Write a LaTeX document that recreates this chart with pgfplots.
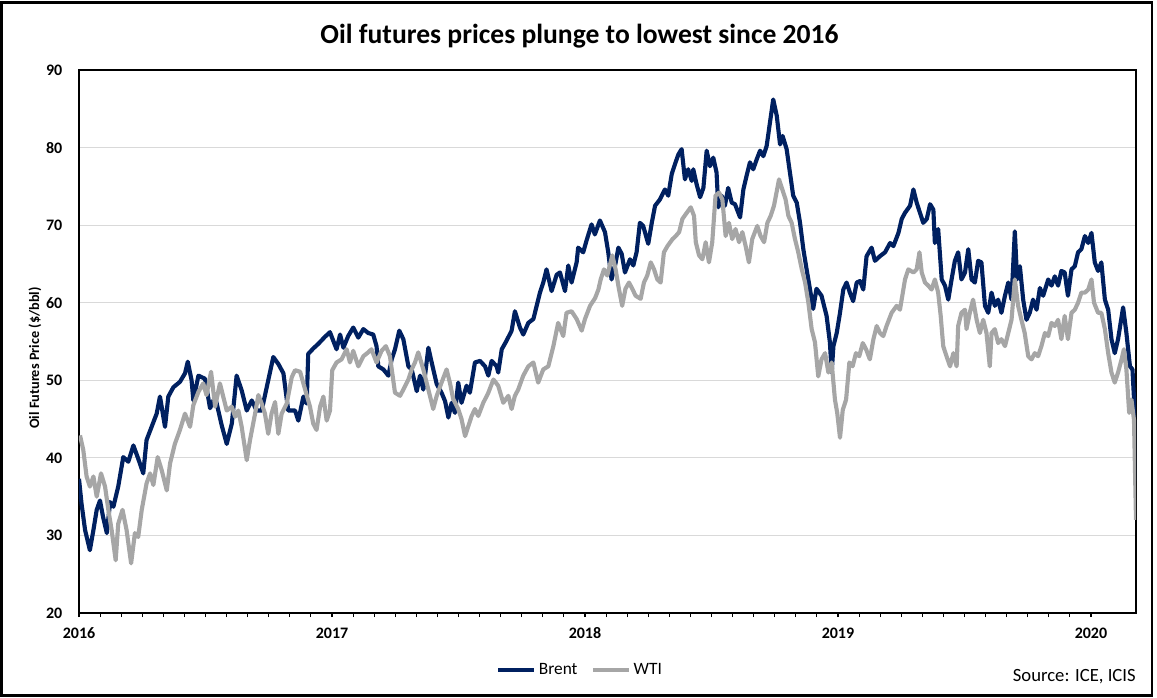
\documentclass[border=0pt]{standalone}
\usepackage{pgfplots}
\pgfplotsset{compat=1.18}
\usepackage{fontspec}
\setmainfont{Carlito}
\definecolor{brent}{HTML}{002060}
\definecolor{wti}{HTML}{A6A6A6}
\definecolor{gridc}{HTML}{D9D9D9}

\pgfplotstableread{
x y
2016.000 37.3
2016.010 34.1
2016.024 30.7
2016.043 28.1
2016.057 30.7
2016.070 33.3
2016.083 34.5
2016.095 32.4
2016.110 30.3
2016.123 34.3
2016.136 33.7
2016.155 36.3
2016.175 40.1
2016.195 39.5
2016.215 41.6
2016.234 39.9
2016.254 38.0
2016.267 42.3
2016.287 44.0
2016.307 45.7
2016.320 47.9
2016.340 44.0
2016.353 47.9
2016.373 49.1
2016.399 49.8
2016.419 50.9
2016.430 52.4
2016.445 50.0
2016.452 47.4
2016.472 50.6
2016.498 50.2
2016.518 46.4
2016.538 47.9
2016.564 44.2
2016.584 41.8
2016.604 44.4
2016.623 50.6
2016.643 48.7
2016.663 46.1
2016.683 47.4
2016.702 46.1
2016.722 46.1
2016.742 49.1
2016.768 53.0
2016.788 52.1
2016.808 50.9
2016.827 46.1
2016.854 46.1
2016.867 44.8
2016.887 47.9
2016.900 47.0
2016.906 53.4
2016.926 54.1
2016.946 54.7
2016.972 55.6
2016.992 56.2
2017.018 54.0
2017.032 55.9
2017.045 54.2
2017.064 55.7
2017.084 56.8
2017.104 55.5
2017.124 56.6
2017.143 56.1
2017.163 55.9
2017.176 54.4
2017.183 51.8
2017.203 51.4
2017.223 50.6
2017.236 52.7
2017.249 54.0
2017.266 56.4
2017.282 55.3
2017.302 51.8
2017.315 51.4
2017.335 48.6
2017.348 50.6
2017.361 48.8
2017.381 54.2
2017.394 52.3
2017.414 49.5
2017.433 48.4
2017.447 47.3
2017.460 45.2
2017.473 47.1
2017.486 45.8
2017.499 49.7
2017.512 47.1
2017.532 49.3
2017.545 48.4
2017.565 52.3
2017.585 52.5
2017.605 51.8
2017.618 50.6
2017.631 52.5
2017.651 51.8
2017.657 51.0
2017.671 54.0
2017.690 55.1
2017.710 56.4
2017.723 58.9
2017.743 56.8
2017.756 55.9
2017.776 57.4
2017.796 57.9
2017.809 59.6
2017.822 61.3
2017.835 62.6
2017.848 64.3
2017.868 61.5
2017.888 63.6
2017.901 63.9
2017.921 61.5
2017.934 64.8
2017.947 62.6
2017.967 65.2
2017.973 67.1
2017.993 66.5
2018.006 68.0
2018.026 70.1
2018.039 68.8
2018.059 70.6
2018.079 69.1
2018.092 66.5
2018.105 63.0
2018.119 64.8
2018.132 67.1
2018.145 66.3
2018.158 63.9
2018.178 65.6
2018.191 64.8
2018.204 66.5
2018.217 70.3
2018.230 69.9
2018.250 67.6
2018.264 70.3
2018.277 72.5
2018.296 73.3
2018.316 74.6
2018.329 73.8
2018.343 76.6
2018.356 77.9
2018.369 79.1
2018.382 79.8
2018.395 75.9
2018.408 77.2
2018.422 75.7
2018.428 77.2
2018.441 75.3
2018.455 73.6
2018.468 74.8
2018.481 79.6
2018.494 77.6
2018.507 78.7
2018.520 76.8
2018.527 72.3
2018.540 73.8
2018.553 72.5
2018.566 74.8
2018.580 72.9
2018.593 72.7
2018.613 71.0
2018.626 74.6
2018.639 76.4
2018.652 78.1
2018.665 77.2
2018.679 78.5
2018.692 79.6
2018.705 78.9
2018.718 80.2
2018.731 83.2
2018.744 86.2
2018.758 84.1
2018.771 80.4
2018.781 81.5
2018.797 79.8
2018.810 76.8
2018.823 73.8
2018.837 72.9
2018.850 70.3
2018.863 66.9
2018.876 64.3
2018.889 61.8
2018.902 59.2
2018.915 61.8
2018.935 60.9
2018.955 58.3
2018.968 54.9
2018.975 51.0
2018.982 54.4
2018.995 56.1
2019.008 58.7
2019.021 61.7
2019.034 62.6
2019.047 61.3
2019.060 60.2
2019.074 62.6
2019.087 62.8
2019.100 61.7
2019.113 66.0
2019.133 67.1
2019.146 65.4
2019.166 66.0
2019.186 66.5
2019.206 67.7
2019.219 67.3
2019.239 69.0
2019.252 70.8
2019.265 71.6
2019.285 72.5
2019.298 74.6
2019.311 72.9
2019.324 71.6
2019.337 70.3
2019.351 70.8
2019.364 72.7
2019.377 72.0
2019.383 67.7
2019.396 69.5
2019.410 63.0
2019.423 62.2
2019.436 60.4
2019.449 63.0
2019.462 65.4
2019.475 66.5
2019.488 63.0
2019.502 63.9
2019.515 66.9
2019.528 63.0
2019.541 62.6
2019.554 65.4
2019.567 65.2
2019.581 59.6
2019.594 58.7
2019.607 61.3
2019.620 59.6
2019.633 60.4
2019.646 58.7
2019.660 60.9
2019.673 62.6
2019.686 60.4
2019.699 69.2
2019.708 63.0
2019.719 64.7
2019.732 60.4
2019.745 57.8
2019.758 58.7
2019.771 60.4
2019.785 59.1
2019.798 61.9
2019.811 60.9
2019.831 63.0
2019.844 62.2
2019.857 63.4
2019.870 62.2
2019.883 64.1
2019.896 63.9
2019.909 60.9
2019.923 64.3
2019.936 64.7
2019.949 66.5
2019.962 66.9
2019.976 68.6
2019.989 67.7
2020.002 69.0
2020.015 65.2
2020.028 64.1
2020.041 65.2
2020.055 60.4
2020.068 59.1
2020.081 55.3
2020.094 53.5
2020.107 55.3
2020.127 59.4
2020.140 56.1
2020.154 51.8
2020.164 51.4
2020.173 45.8
2020.178 37.0
}\brent

\pgfplotstableread{
x y
2016.004 42.9
2016.017 41.0
2016.030 37.6
2016.043 36.3
2016.057 37.6
2016.070 35.0
2016.087 38.0
2016.103 36.3
2016.116 33.3
2016.129 30.7
2016.145 26.8
2016.155 31.5
2016.172 33.3
2016.188 30.7
2016.206 26.4
2016.221 30.3
2016.234 29.8
2016.248 33.3
2016.267 36.7
2016.281 38.0
2016.294 36.5
2016.311 40.1
2016.327 38.4
2016.347 35.8
2016.360 39.3
2016.379 41.8
2016.399 43.6
2016.419 45.7
2016.439 44.0
2016.452 46.8
2016.472 48.5
2016.491 49.6
2016.504 48.1
2016.522 51.1
2016.538 46.6
2016.557 49.6
2016.570 47.9
2016.584 46.1
2016.604 46.6
2016.617 45.3
2016.630 46.1
2016.643 44.0
2016.663 39.7
2016.676 42.3
2016.696 45.7
2016.709 48.1
2016.722 47.0
2016.735 45.7
2016.748 43.1
2016.761 45.7
2016.775 47.2
2016.788 43.1
2016.801 45.7
2016.821 47.0
2016.841 50.4
2016.854 51.3
2016.874 51.1
2016.893 48.9
2016.913 46.6
2016.926 44.4
2016.939 43.6
2016.953 46.6
2016.966 47.9
2016.979 44.8
2016.992 46.1
2017.001 51.3
2017.018 52.3
2017.038 52.7
2017.058 54.0
2017.071 52.3
2017.084 53.8
2017.104 51.8
2017.124 53.1
2017.143 53.6
2017.156 54.0
2017.176 52.3
2017.196 53.8
2017.213 54.4
2017.229 53.1
2017.249 48.4
2017.269 48.0
2017.282 48.8
2017.302 50.1
2017.315 51.4
2017.328 52.3
2017.341 53.6
2017.361 51.4
2017.374 49.7
2017.387 48.0
2017.400 46.3
2017.414 48.0
2017.433 49.7
2017.453 51.4
2017.466 49.7
2017.479 47.6
2017.499 46.3
2017.512 45.0
2017.526 42.8
2017.539 44.1
2017.552 45.4
2017.565 46.3
2017.578 45.4
2017.598 47.1
2017.618 48.4
2017.638 50.1
2017.657 49.3
2017.677 47.1
2017.697 48.0
2017.710 46.3
2017.723 48.0
2017.736 48.8
2017.756 50.6
2017.776 51.8
2017.796 52.3
2017.815 49.7
2017.835 51.4
2017.855 51.8
2017.875 54.4
2017.894 57.4
2017.914 55.7
2017.927 58.7
2017.947 58.9
2017.967 57.9
2017.987 56.4
2018.000 57.9
2018.020 59.6
2018.040 60.6
2018.053 61.7
2018.062 63.0
2018.075 64.3
2018.088 63.5
2018.108 66.1
2018.121 64.3
2018.134 61.8
2018.147 59.6
2018.160 61.8
2018.174 62.6
2018.187 61.8
2018.200 60.9
2018.220 60.5
2018.233 62.6
2018.246 63.5
2018.260 65.2
2018.273 64.3
2018.286 63.0
2018.299 62.6
2018.312 66.5
2018.326 67.3
2018.346 68.2
2018.359 68.6
2018.372 69.1
2018.385 70.8
2018.398 71.4
2018.418 72.3
2018.431 71.2
2018.438 67.8
2018.451 66.1
2018.464 65.6
2018.477 67.8
2018.490 65.2
2018.503 67.8
2018.516 73.8
2018.530 74.2
2018.543 73.3
2018.556 68.6
2018.569 70.3
2018.582 68.2
2018.595 69.5
2018.609 67.8
2018.622 69.1
2018.635 67.3
2018.648 65.2
2018.661 68.2
2018.681 69.9
2018.694 68.6
2018.708 67.8
2018.721 70.3
2018.734 71.2
2018.747 72.5
2018.767 75.9
2018.780 74.6
2018.793 73.3
2018.804 71.2
2018.817 70.3
2018.830 68.2
2018.843 66.5
2018.857 64.3
2018.870 62.6
2018.883 60.0
2018.896 56.6
2018.909 54.9
2018.922 50.5
2018.935 52.7
2018.949 53.5
2018.962 51.0
2018.975 52.3
2018.988 47.5
2018.997 45.8
2019.008 42.6
2019.019 46.2
2019.032 47.5
2019.045 52.3
2019.058 51.8
2019.071 53.5
2019.084 53.1
2019.098 54.8
2019.111 54.0
2019.126 52.7
2019.140 55.3
2019.153 57.0
2019.166 56.1
2019.179 55.7
2019.192 57.0
2019.212 58.7
2019.232 59.6
2019.245 59.1
2019.265 63.0
2019.278 64.3
2019.298 63.9
2019.311 64.3
2019.322 66.5
2019.331 63.9
2019.344 62.6
2019.357 62.2
2019.370 61.7
2019.383 63.0
2019.396 61.3
2019.406 58.3
2019.416 54.4
2019.429 53.1
2019.443 51.8
2019.456 53.5
2019.469 51.8
2019.475 57.0
2019.488 58.7
2019.502 59.1
2019.508 56.6
2019.521 58.7
2019.534 60.4
2019.548 57.8
2019.561 56.1
2019.574 57.8
2019.587 56.1
2019.600 51.8
2019.607 56.1
2019.620 56.6
2019.633 54.8
2019.646 55.3
2019.660 54.4
2019.673 56.1
2019.686 57.8
2019.699 63.0
2019.712 59.6
2019.725 57.8
2019.738 56.1
2019.752 53.1
2019.765 52.7
2019.778 53.5
2019.791 53.1
2019.804 54.4
2019.818 56.1
2019.831 55.7
2019.844 57.4
2019.857 57.0
2019.870 57.8
2019.883 55.3
2019.896 58.3
2019.909 55.3
2019.923 58.7
2019.936 59.1
2019.949 60.0
2019.962 61.3
2019.976 61.3
2019.989 61.7
2020.002 63.0
2020.012 60.0
2020.028 58.7
2020.041 58.7
2020.055 56.6
2020.068 53.5
2020.081 51.0
2020.094 49.7
2020.107 51.0
2020.121 52.7
2020.130 54.0
2020.140 51.4
2020.151 45.8
2020.160 47.5
2020.170 44.9
2020.178 32.0
}\wti

\begin{document}
\begin{tikzpicture}
\useasboundingbox (-59.25pt,-63pt) rectangle (808.5pt,459.75pt);
\draw[line width=2.2pt] (-58.3pt,-61.9pt) rectangle (804.75pt,457.9pt);
\begin{axis}[
  at={(0pt,0pt)}, anchor=south west,
  scale only axis, width=792.75pt, height=407.25pt,
  xmin=2016, xmax=2020.178, ymin=20, ymax=90,
  xtick={2016,2017,2018,2019,2020},
  minor x tick num=11,
  ytick={20,30,...,90},
  xtick pos=left,
  ytick style={draw=none},
  tick align=outside,
  major tick length=3pt, minor tick length=3pt,
  xtick style={black, line width=0.8pt},
  ymajorgrids, major grid style={gridc, line width=0.9pt},
  axis line style={line width=1.9pt},
  tick label style={font=\bfseries\fontsize{12}{14}\selectfont},
  xticklabel style={yshift=-4.5pt},
  yticklabel style={xshift=-6pt},
  /pgf/number format/assume math mode=true,
  /pgf/number format/1000 sep={},
  legend style={at={(0.4743,-0.105)}, anchor=center, draw=none, fill=none,
    font=\fontsize{13}{15}\selectfont, legend columns=2,
    /tikz/every even column/.append style={column sep=8pt},
    /tikz/every odd column/.append style={inner sep=1pt}},
  legend image code/.code={\draw[#1] (0pt,0pt) -- (27pt,0pt);},
]
\addplot[brent, line width=3.1pt, line join=round, no markers] table {\brent};
\addlegendentry{Brent}
\addplot[wti, line width=3.1pt, line join=round, no markers] table {\wti};
\addlegendentry{WTI}
\end{axis}
\node[font=\bfseries\fontsize{20.7}{24}\selectfont] at (375.4pt,433pt) {Oil futures prices plunge to lowest since 2016};
\node[rotate=90, font=\bfseries\fontsize{10.7}{12}\selectfont] at (-33pt,191.25pt) {Oil Futures Price (\$/bbl)};
\node[anchor=east, font=\fontsize{14}{16}\selectfont, inner sep=0pt] at (792.75pt,-48pt) {Source: ICE, ICIS};
\end{tikzpicture}
\end{document}
